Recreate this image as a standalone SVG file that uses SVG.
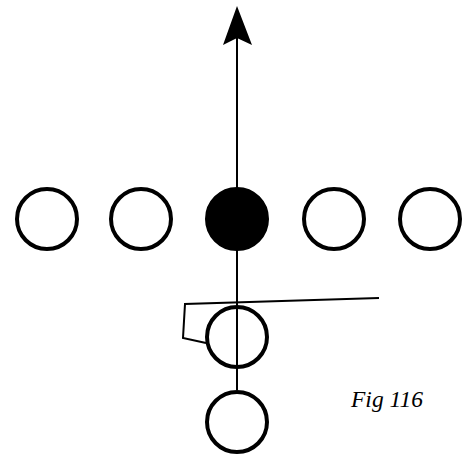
<svg xmlns="http://www.w3.org/2000/svg" width="464" height="456" viewBox="0 0 464 456">
  <style>
    .player { fill: #fff; stroke: #000; stroke-width: 4; }
    .ball { fill: #000; stroke: #000; stroke-width: 4; }
    .route { fill: none; stroke: #000; stroke-width: 2; }
    .label { font-family: "Liberation Serif", "Times New Roman", serif; font-style: italic; font-size: 23.5px; fill: #000; }
  </style>
  <rect width="464" height="456" fill="#fff"/>

  <g id="connectors">
    <!-- blocking route of the upback -->
    <polyline class="route" points="379,298 185,304 183,338 206,343"/>
    <!-- ball carrier path straight up the middle -->
    <line class="route" x1="237" y1="390" x2="237" y2="36"/>
    <polygon points="237,6 223,45 237,38 252,45" fill="#000"/>
  </g>

  <g id="line-left-tackle"><circle class="player" cx="47" cy="219" r="30"/></g>
  <g id="line-left-guard"><circle class="player" cx="141" cy="219" r="30"/></g>
  <g id="center"><circle class="ball" cx="237" cy="219" r="30"/></g>
  <g id="line-right-guard"><circle class="player" cx="334" cy="219" r="30"/></g>
  <g id="line-right-tackle"><circle class="player" cx="430" cy="219" r="30"/></g>
  <g id="upback"><circle class="player" cx="237" cy="337" r="30" fill-opacity="0"/></g>
  <g id="tailback"><circle class="player" cx="237" cy="422" r="30"/></g>

  <g id="caption"><text class="label" x="351" y="407">Fig 116</text></g>
</svg>
